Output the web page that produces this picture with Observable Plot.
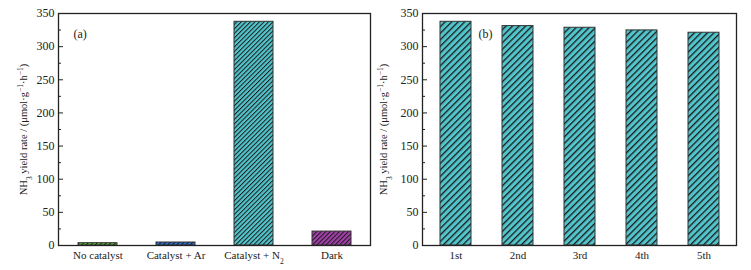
<!DOCTYPE html>
<html>
<head>
<meta charset="utf-8">
<script src="https://cdn.jsdelivr.net/npm/d3@7"></script>
<script src="https://cdn.jsdelivr.net/npm/@observablehq/plot@0.6"></script>
<style>
  body { margin: 0; background: #fff; }
  #wrap { display: flex; width: 751px; height: 270px; }
</style>
</head>
<body>
<svg id="defs" width="0" height="0" style="position:absolute"></svg>
<div id="wrap"></div>
<script>
// ---- data ----
const conditions = ["No catalyst", "Catalyst + Ar", "Catalyst + N2", "Dark"];
const conditionRates = [3.5, 4.5, 337.5, 21];
const cycles = ["1st", "2nd", "3rd", "4th", "5th"];
const cycleRates = [337.5, 331, 328.5, 324.5, 321];
const yTicks = [0, 50, 100, 150, 200, 250, 300, 350];
const yMinorTicks = [25, 75, 125, 175, 225, 275, 325];
const yLabel = "NH3 yield rate / (μmol·g-1·h-1)";
const panelTags = ["(a)", "(b)"];

// ---- hatch patterns ----
const patternSpecs = [
  {id: "pg", color: "#5cb83a", size: 3.2, sw: 1.0},
  {id: "pb", color: "#2f6fd0", size: 3.2, sw: 1.0},
  {id: "pc", color: "#52c4cb", size: 3.2, sw: 1.0},
  {id: "pp", color: "#a23fa8", size: 3.2, sw: 1.0},
  {id: "pc2", color: "#52c4cb", size: 4.6, sw: 1.3}
];
document.getElementById("defs").innerHTML = "<defs>" + patternSpecs.map(p =>
  `<pattern id="${p.id}" patternUnits="userSpaceOnUse" width="${p.size}" height="${p.size}" patternTransform="rotate(45)">` +
  `<rect width="${p.size}" height="${p.size}" fill="${p.color}"/>` +
  `<line x1="0" y1="0" x2="0" y2="${p.size}" stroke="#1a1a1a" stroke-width="${p.sw * 2}"/></pattern>`
).join("") + "</defs>";
const leftFills = ["url(#pg)", "url(#pb)", "url(#pc)", "url(#pp)"];

const leftData = conditions.map((c, i) => ({label: c, value: conditionRates[i], i}));
const rightData = cycles.map((c, i) => ({label: c, value: cycleRates[i], i}));

function panel(data, domain, fillFn, tag, opts) {
  return Plot.plot({
    width: opts.width, height: 270,
    marginLeft: opts.ml, marginRight: opts.mr, marginTop: 13, marginBottom: 25,
    style: {fontFamily: "'Liberation Serif', 'Times New Roman', serif", fontSize: "12px", color: "#222", background: "#fff"},
    x: {domain, paddingInner: 0.5, paddingOuter: 0.25},
    y: {domain: [0, 350]},
    color: {type: "identity"},
    marks: [
      Plot.barY(data, {x: "label", y: "value", fill: fillFn, stroke: "#333", strokeWidth: 1}),
      Plot.frame({stroke: "#222", strokeWidth: 1.3}),
      Plot.axisY({ticks: yTicks, tickSize: -5, text: null, label: null}),
      Plot.axisY({ticks: yMinorTicks, tickSize: -3, text: null, label: null}),
      Plot.axisY({ticks: yTicks, tickSize: 0, tickPadding: 4, label: null, fontSize: 12}),
      Plot.axisX({tickSize: 0, tickPadding: 6, label: null, fontSize: 11}),
      Plot.text([yLabel], {text: d => d, frameAnchor: "left", textAnchor: "middle", lineAnchor: "middle", rotate: -90, dx: -opts.labelOffset, fontSize: 10.5, fill: "#222"}),
      Plot.text([tag], {text: d => d, frameAnchor: "top-left", dx: opts.tagDx, dy: 16, textAnchor: "start", fontSize: 12, fill: "#222"})
    ]
  });
}

const left = panel(leftData, conditions, d => leftFills[d.i], panelTags[0],
  {width: 375, ml: 58, mr: 5, labelOffset: 35, tagDx: 15});
const right = panel(rightData, cycles, () => "url(#pc2)", panelTags[1],
  {width: 376, ml: 47, mr: 15, labelOffset: 39, tagDx: 56});

const wrap = document.getElementById("wrap");
wrap.appendChild(left);
wrap.appendChild(right);

// rich text (subscripts / superscripts) as real text
const sub = t => `<tspan baseline-shift="sub" font-size="7.5">${t}</tspan>`;
const sup = t => `<tspan baseline-shift="super" font-size="7.5">${t}</tspan>`;
d3.selectAll("#wrap svg text").each(function() {
  const s = this.textContent;
  if (s === yLabel) {
    this.innerHTML = `NH${sub("3")} yield rate / (μmol·g${sup("−1")}·h${sup("−1")})`;
  } else if (s === "Catalyst + N2") {
    this.innerHTML = `Catalyst + N${sub("2")}`;
  }
});
</script>
</body>
</html>
